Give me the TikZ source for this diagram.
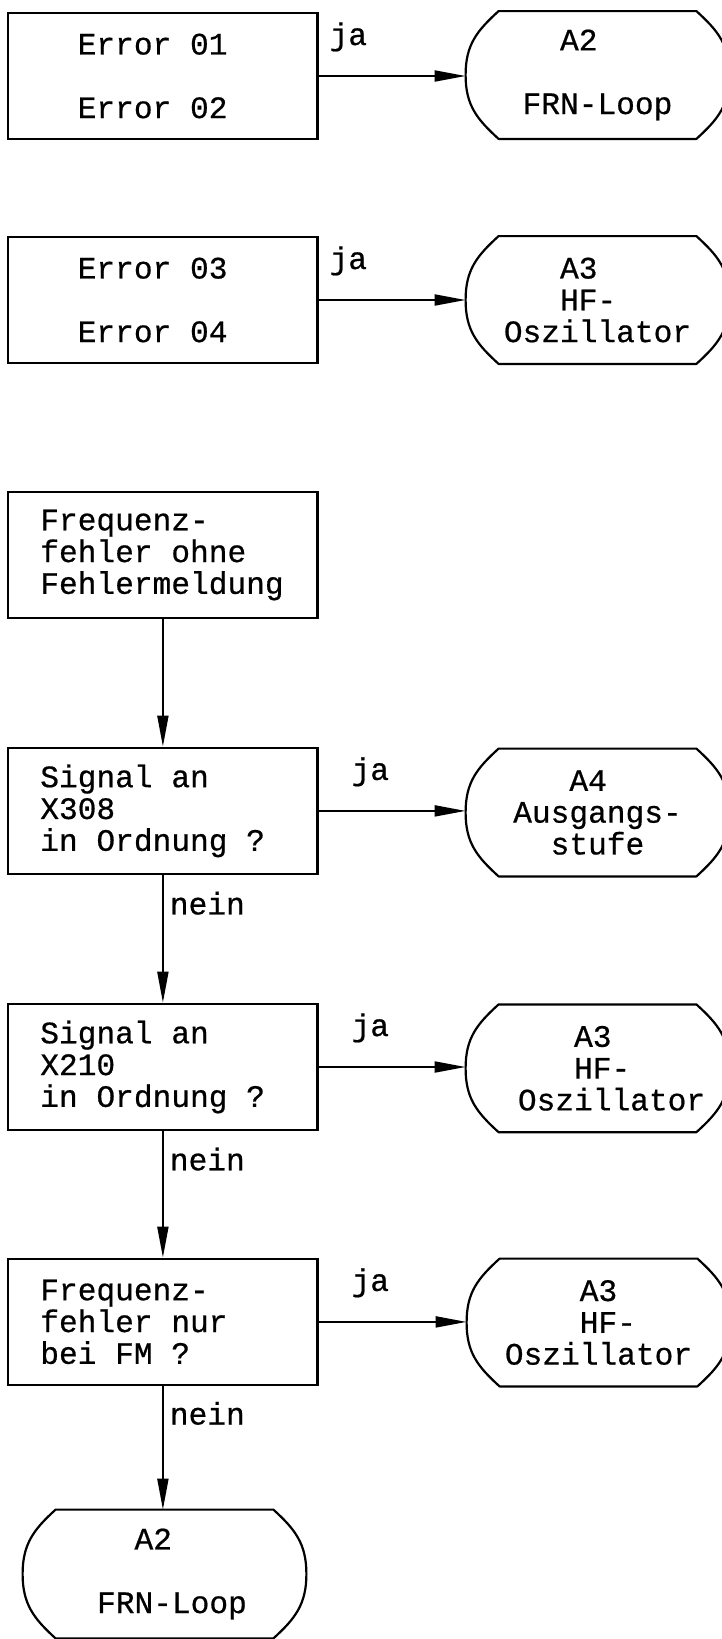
\documentclass[tikz,border=0pt]{standalone}
\usepackage{fontspec}
\newfontfamily\typewriter[FakeBold=0.6]{Liberation Mono}
\usetikzlibrary{arrows.meta,calc}
% width of one typewriter character, used to indent lines
\newlength\chw
\setlength\chw{9.36pt}
\newcommand\pad[1]{\hspace*{#1\chw}}
\begin{document}
\begin{tikzpicture}[
  x=0.5pt, y=-0.5pt,
  font=\typewriter\fontsize{15.6pt}{15.9pt}\selectfont,
  stepbox/.style={draw, line width=1.1pt, rectangle, text width=122.6pt,
    inner xsep=16pt, inner ysep=0pt, minimum height=63.25pt, align=flush left},
  terminal/.style={rectangle, inner sep=0pt, minimum width=131.5pt,
    minimum height=63.5pt, align=left},
  outline/.style={line width=1.1pt, line join=round},
  flow/.style={line width=1pt, -{Triangle[length=15.5pt,width=5.5pt]}},
  jalabel/.style={anchor=base west, inner sep=0pt, pos=0, yshift=15.5pt},
  neinlabel/.style={anchor=west, inner sep=0pt, pos=0.22, xshift=3pt}
]
\useasboundingbox (0,0) rectangle (722,1639);
\fill[white] (0,0) rectangle (722,1639);

% decision and message boxes
\node[stepbox] (b1) at (162.9,76)   {\pad{2}Error 01\\\mbox{}\\\pad{2}Error 02};
\node[stepbox] (b2) at (162.9,300)  {\pad{2}Error 03\\\mbox{}\\\pad{2}Error 04};
\node[stepbox] (b3) at (162.9,555)  {Frequenz-\\fehler ohne\\Fehlermeldung};
\node[stepbox] (b4) at (162.9,810.9){Signal an\\X308\\in Ordnung ?};
\node[stepbox] (b5) at (162.9,1067) {Signal an\\X210\\in Ordnung ?};
\node[stepbox] (b6) at (162.9,1321.9){Frequenz-\\fehler nur\\bei FM ?};

% terminal (module) nodes
\node[terminal] (t1) at (597.5,75)    {\pad{2}A2\\\mbox{}\\FRN-Loop};
\node[terminal] (t2) at (597.5,300)   {\pad{3}A3\\\pad{3}HF-\\Oszillator};
\node[terminal] (t4) at (597.5,812.5) {\pad{3}A4\\Ausgangs-\\\pad{2}stufe};
\node[terminal] (t5) at (597.5,1068.3){\pad{4.5}A3\\\pad{4.5}HF-\\\pad{1.5}Oszillator};
\node[terminal] (t6) at (598.5,1322.5){\pad{4}A3\\\pad{4}HF-\\Oszillator};
\node[terminal, minimum width=141.5pt, minimum height=64pt] (t7) at (164.5,1574)
  {\pad{2.8}A2\\\mbox{}\\\pad{0.8}FRN-Loop};

% terminal outlines: flat top and bottom, curved sides
\foreach \t in {t1,t2,t4,t5,t6,t7}{
  \draw[outline] ($(\t.north west)+(33,0)$) -- ($(\t.north east)+(-33,0)$)
    .. controls ($(\t.north east)+(-11,20)$) and ($(\t.east)+(0,-30)$) .. (\t.east)
    .. controls ($(\t.east)+(0,30)$) and ($(\t.south east)+(-11,-20)$) .. ($(\t.south east)+(-33,0)$)
    -- ($(\t.south west)+(33,0)$)
    .. controls ($(\t.south west)+(11,-20)$) and ($(\t.west)+(0,30)$) .. (\t.west)
    .. controls ($(\t.west)+(0,-30)$) and ($(\t.north west)+(11,20)$) .. ($(\t.north west)+(33,0)$)
    -- cycle;
}

% "ja" branches
\draw[flow] (b1.east) -- node[jalabel, xshift=5pt] (j1) {ja} (b1.east -| t1.west);
\draw[flow] (b2.east) -- node[jalabel, xshift=5pt] (j2) {ja} (b2.east -| t2.west);
\draw[flow] (b4.east) -- node[jalabel, xshift=16pt] (j4) {ja} (b4.east -| t4.west);
\draw[flow] (b5.east) -- node[jalabel, xshift=16pt] (j5) {ja} (b5.east -| t5.west);
\draw[flow] (b6.east) -- node[jalabel, xshift=16pt] (j6) {ja} (b6.east -| t6.west);

% main chain
\draw[flow] (b3.south) -- (b4.north);
\draw[flow] (b4.south) -- node[neinlabel] (n4) {nein} (b5.north);
\draw[flow] (b5.south) -- node[neinlabel] (n5) {nein} (b6.north);
\draw[flow] (b6.south) -- node[neinlabel] (n6) {nein} (b6.south |- t7.north);
\end{tikzpicture}
\end{document}
